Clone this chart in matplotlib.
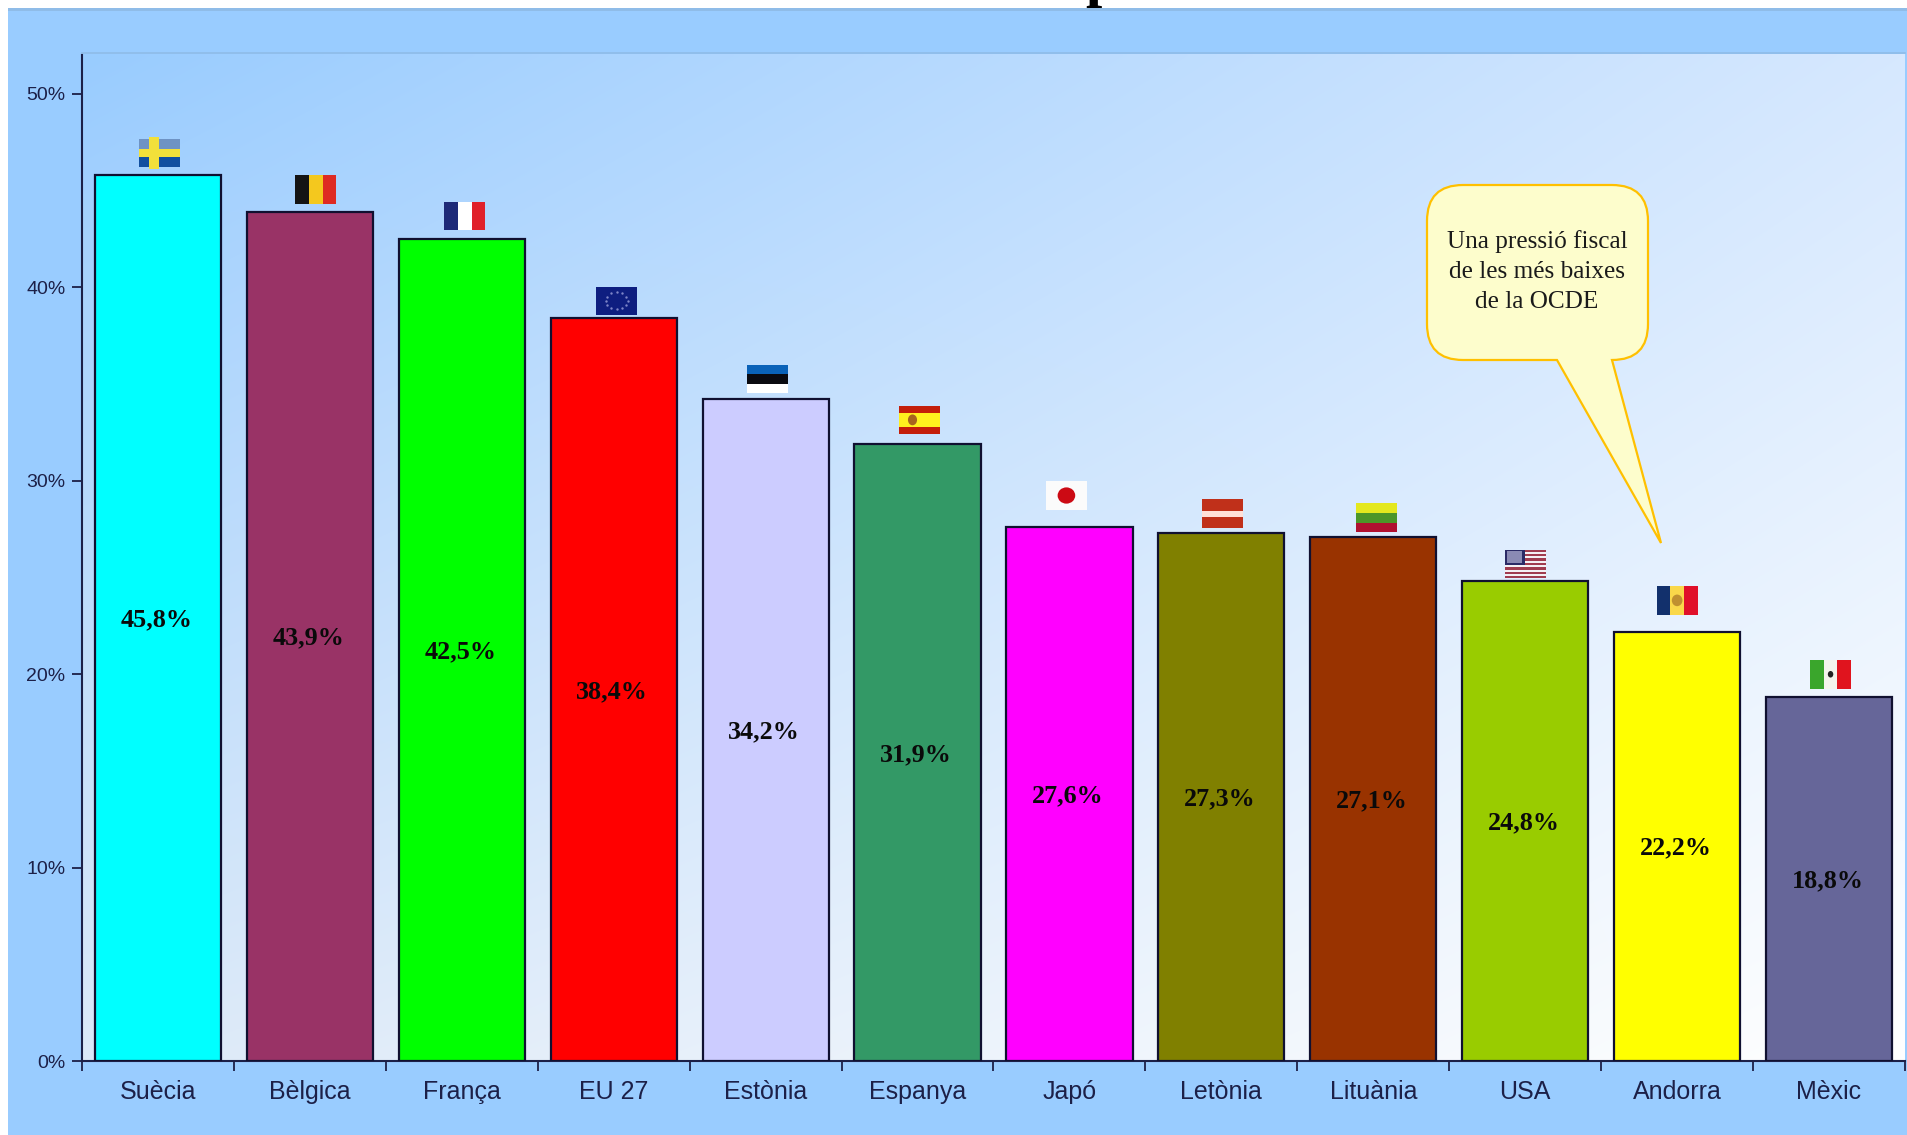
"""
Pressio fiscal per pais, bar chart with small flags and a callout
"""
import matplotlib as mpl
mpl.use('Agg')
import numpy as np
import matplotlib.pyplot as plt
from matplotlib.patches import Rectangle, Ellipse, PathPatch
from matplotlib.path import Path

plt.rc('font', family='Liberation Sans')

W, H = 1908, 1135

countries = ['Suècia', 'Bèlgica', 'França', 'EU 27', 'Estònia', 'Espanya',
             'Japó', 'Letònia', 'Lituània', 'USA', 'Andorra', 'Mèxic']
values = [45.8, 43.9, 42.5, 38.4, 34.2, 31.9, 27.6, 27.3, 27.1, 24.8, 22.2, 18.8]
value_labels = ['45,8%', '43,9%', '42,5%', '38,4%', '34,2%', '31,9%',
                '27,6%', '27,3%', '27,1%', '24,8%', '22,2%', '18,8%']
bar_colors = ['#00FFFF', '#993366', '#00FF00', '#FF0000', '#CCCCFF', '#339966',
              '#FF00FF', '#808000', '#993300', '#99CC00', '#FFFF00', '#666699']
y_ticks = [0, 10, 20, 30, 40, 50]
y_tick_labels = ['0%', '10%', '20%', '30%', '40%', '50%']
callout_lines = ['Una pressió fiscal', 'de les més baixes', 'de la OCDE']

# flag placement, relative to the top centre of each bar
flag_dx = [0.01, 0.04, 0.02, 0.02, 0.01, 0.01, -0.02, 0.01, 0.02, 0.0, 0.0, 0.01]
flag_gap = [0.4, 0.4, 0.44, 0.15, 0.32, 0.5, 0.89, 0.25, 0.24, 0.15, 0.87, 0.45]

FLAG_W = 0.27
FLAG_H = 1.48

PANEL = '#99CCFF'
INK = '#1C2048'


# -----------------------------------------------------------
def stripes(ax, x0, y0, cols, vertical=False, w=FLAG_W, h=FLAG_H):
    n = len(cols)
    for i, c in enumerate(cols):
        if vertical:
            ax.add_patch(Rectangle((x0 + i * w / n, y0), w / n, h, fc=c, lw=0, zorder=4))
        else:
            # first colour is the top stripe
            ax.add_patch(Rectangle((x0, y0 + h - (i + 1) * h / n), w, h / n, fc=c, lw=0, zorder=4))


def ell(ax, x, y, rx, ry, c, z=5):
    ax.add_patch(Ellipse((x, y), 2 * rx, 2 * ry, fc=c, lw=0, zorder=z))


def draw_flag(ax, name, x0, y0):
    w, h = FLAG_W, FLAG_H
    if name == 'Suècia':
        stripes(ax, x0, y0, ['#6E93C4', '#114FA0'])
        ax.add_patch(Rectangle((x0, y0 + 0.36 * h), w, 0.28 * h, fc='#F2E03A', lw=0, zorder=5))
        ax.add_patch(Rectangle((x0 + 0.25 * w, y0 - 0.05 * h), 0.24 * w, 1.1 * h, fc='#F2E03A', lw=0, zorder=5))
    elif name == 'Bèlgica':
        stripes(ax, x0, y0, ['#141414', '#F4C81E', '#DE2A22'], vertical=True)
    elif name == 'França':
        stripes(ax, x0, y0, ['#1E2A78', '#FFFFFF', '#E0202A'], vertical=True)
    elif name == 'EU 27':
        stripes(ax, x0, y0, ['#0E1E80'])
        ang = np.arange(12) * np.pi / 6
        ax.scatter(x0 + w / 2 + 0.27 * w * np.cos(ang), y0 + h / 2 + 0.3 * h * np.sin(ang),
                   s=3, c='#7E86C8', lw=0, zorder=5)
    elif name == 'Estònia':
        stripes(ax, x0, y0, ['#0A62B8', '#0A0A10', '#FFFFFF'])
    elif name == 'Espanya':
        stripes(ax, x0, y0, ['#C41E0A', '#FFF01E', '#FFF01E', '#C41E0A'])
        ell(ax, x0 + 0.34 * w, y0 + h / 2, 0.03, 0.28, '#A8641E')
    elif name == 'Japó':
        stripes(ax, x0, y0, ['#FBFBFB'])
        ell(ax, x0 + w / 2, y0 + h / 2, 0.058, 0.42, '#CC0A14')
    elif name == 'Letònia':
        stripes(ax, x0, y0, ['#C0301A', '#C0301A', '#FFE0D8', '#C0301A', '#C0301A'])
    elif name == 'Lituània':
        stripes(ax, x0, y0, ['#E4E81E', '#4C9628', '#B01030'])
    elif name == 'USA':
        cols = ['#A03C50' if i % 2 == 0 else '#F4F0F4' for i in range(13)]
        stripes(ax, x0, y0, cols)
        ax.add_patch(Rectangle((x0, y0 + 0.45 * h), 0.5 * w, 0.55 * h, fc='#2A2A66', lw=0, zorder=5))
        ax.add_patch(Rectangle((x0 + 0.05 * w, y0 + 0.52 * h), 0.38 * w, 0.42 * h, fc='#8A8AB4', lw=0, zorder=5))
    elif name == 'Andorra':
        stripes(ax, x0, y0, ['#12306C', '#FAD84A', '#E0102A'], vertical=True)
        ell(ax, x0 + w / 2, y0 + h / 2, 0.035, 0.3, '#C09030')
    elif name == 'Mèxic':
        stripes(ax, x0, y0, ['#3AA62C', '#F4F4EC', '#E0141E'], vertical=True)
        ell(ax, x0 + w / 2, y0 + h / 2, 0.018, 0.17, '#222222')


def rounded_callout(x0, y0, x1, y1, r, tail):
    # outline in pixel coordinates, clockwise from the top left corner
    (t1, t2, t3) = tail
    verts = [(x0 + r, y0), (x1 - r, y0), (x1, y0), (x1, y0 + r),
             (x1, y1 - r), (x1, y1), (x1 - r, y1),
             t3, t2, t1,
             (x0 + r, y1), (x0, y1), (x0, y1 - r),
             (x0, y0 + r), (x0, y0), (x0 + r, y0), (x0 + r, y0)]
    codes = [Path.MOVETO, Path.LINETO, Path.CURVE3, Path.CURVE3,
             Path.LINETO, Path.CURVE3, Path.CURVE3,
             Path.LINETO, Path.LINETO, Path.LINETO,
             Path.LINETO, Path.CURVE3, Path.CURVE3,
             Path.LINETO, Path.CURVE3, Path.CURVE3, Path.CLOSEPOLY]
    return Path(verts, codes)


# -----------------------------------------------------------
fig = plt.figure(figsize=(W / 100, H / 100), dpi=100, facecolor='white')

# backdrop, in pixel coordinates
bg = fig.add_axes([0, 0, 1, 1], zorder=0)
bg.axis('off')
bg.add_patch(Rectangle((8, 8), W - 8, H - 8, fc=PANEL, lw=0))
bg.add_patch(Rectangle((8, 8), W - 8, 3, fc='#8FBCE8', lw=0))

corner_tl = np.array([0x99, 0xCC, 0xFF]) / 255
corner_tr = np.array([0xD6, 0xE8, 0xFF]) / 255
corner_bl = np.array([0xDC, 0xE9, 0xF8]) / 255
corner_br = np.array([0xFF, 0xFF, 0xFF]) / 255
u, v = np.meshgrid(np.linspace(0, 1, 256), np.linspace(0, 1, 256))
grad = np.zeros((256, 256, 3))
for k in range(3):
    grad[:, :, k] = ((1 - u) * (1 - v) * corner_tl[k] + u * (1 - v) * corner_tr[k]
                     + (1 - u) * v * corner_bl[k] + u * v * corner_br[k])
bg.imshow(grad, extent=(82, 1905, 1061, 54), aspect='auto', interpolation='bilinear', zorder=1)
bg.plot([82, 1905], [53, 53], color='#8FBCE8', lw=1.2, zorder=2)
bg.set_xlim(0, W)
bg.set_ylim(H, 0)

# tail of a title cut off by the top edge of the picture
bg.text(1102, -4, 'p', fontsize=42, family='Liberation Serif', weight='bold',
        ha='center', va='baseline', color='black', clip_on=False)

# chart
ax = fig.add_axes([82 / W, 1 - 1061 / H, (1905 - 82) / W, (1061 - 55) / H], zorder=1)
ax.patch.set_alpha(0)
x = np.arange(len(countries))
ax.bar(x, values, width=0.83, color=bar_colors, edgecolor='#101030', linewidth=1.6, zorder=3)

ax.set_xlim(-0.5, len(countries) - 0.5)
ax.set_ylim(0, 52)
ax.set_yticks(y_ticks)
ax.set_yticklabels(y_tick_labels, fontsize=14, color=INK)
ax.set_xticks(np.arange(len(countries) + 1) - 0.5)
ax.set_xticklabels([])
ax.set_xticks(x, labels=countries, minor=True, fontsize=18, color=INK)
ax.tick_params(axis='x', which='major', length=7, width=1.3, color=INK)
ax.tick_params(axis='x', which='minor', length=0, pad=14)
ax.tick_params(axis='y', length=7, width=1.3, color=INK, pad=5)
for side in ['top', 'right']:
    ax.spines[side].set_visible(False)
for side in ['left', 'bottom']:
    ax.spines[side].set_color(INK)
    ax.spines[side].set_linewidth(1.5)

for xi, val, lab in zip(x, values, value_labels):
    ax.text(xi - 0.01, val / 2 - 0.1, lab, ha='center', va='center', fontsize=18.8,
            family='Liberation Serif', weight='bold', color='#0A0A0A', zorder=6)

for xi, val, name, dx, gap in zip(x, values, countries, flag_dx, flag_gap):
    draw_flag(ax, name, xi + dx - FLAG_W / 2, val + gap)

# callout on top of everything
top = fig.add_axes([0, 0, 1, 1], zorder=2)
top.set_xlim(0, W)
top.set_ylim(H, 0)
top.axis('off')
top.add_patch(PathPatch(rounded_callout(1427, 185, 1648, 360, 36,
                                        ((1557, 360), (1661, 543), (1612, 360))),
                        fc='#FDFDCC', ec='#FFC000', lw=1.6, joinstyle='miter'))
for line, yy in zip(callout_lines, [242, 272, 302]):
    top.text(1537, yy, line, ha='center', va='center', fontsize=18.2,
             family='Liberation Serif', color='#1A1A1A')

fig.savefig('out.png', dpi=100)
